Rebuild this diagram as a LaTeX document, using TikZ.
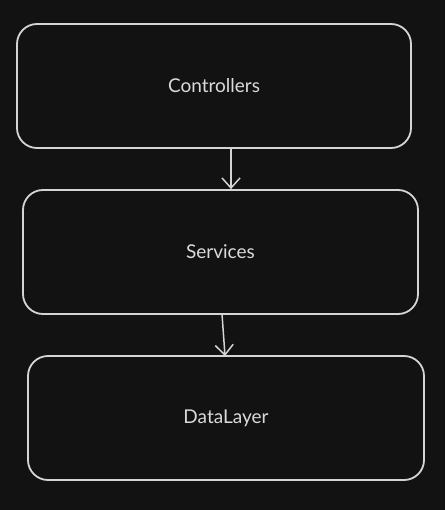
\documentclass[tikz,border=0pt]{standalone}
\usepackage{fontspec}
\setmainfont{Lato}
\usetikzlibrary{arrows.meta}
\definecolor{bg}{HTML}{121212}
\definecolor{ink}{HTML}{D4D4D4}
\definecolor{txt}{HTML}{DADADA}
\newcommand{\lbl}[1]{\raisebox{-2pt}{#1}}
\begin{document}
\begin{tikzpicture}[x=1pt,y=-1pt,
  layer/.style={draw=ink, line width=1.8pt, rounded corners=20pt, minimum width=394pt, minimum height=124pt, text=txt, font=\fontsize{19}{22}\selectfont, inner sep=0pt},
  conn/.style={draw=ink, line width=1.5pt, -{Straight Barb[length=10pt,width=18pt,line width=1.5pt]}}]
\fill[bg] (0,0) rectangle (445,510);
\useasboundingbox (0,0) rectangle (445,510);
\node[layer] (c) at (214,86) {\lbl{Controllers}};
\node[layer, minimum width=395pt] (s) at (220.5,252) {\lbl{Services}};
\node[layer, minimum width=396pt] (d) at (226,418) {\lbl{DataLayer}};
\draw[conn] (c.south -| 231,0) -- (s.north -| 231,0);
\draw[conn] (222,314) coordinate (a2) -- (225,356) coordinate (b2);
\end{tikzpicture}
\end{document}
